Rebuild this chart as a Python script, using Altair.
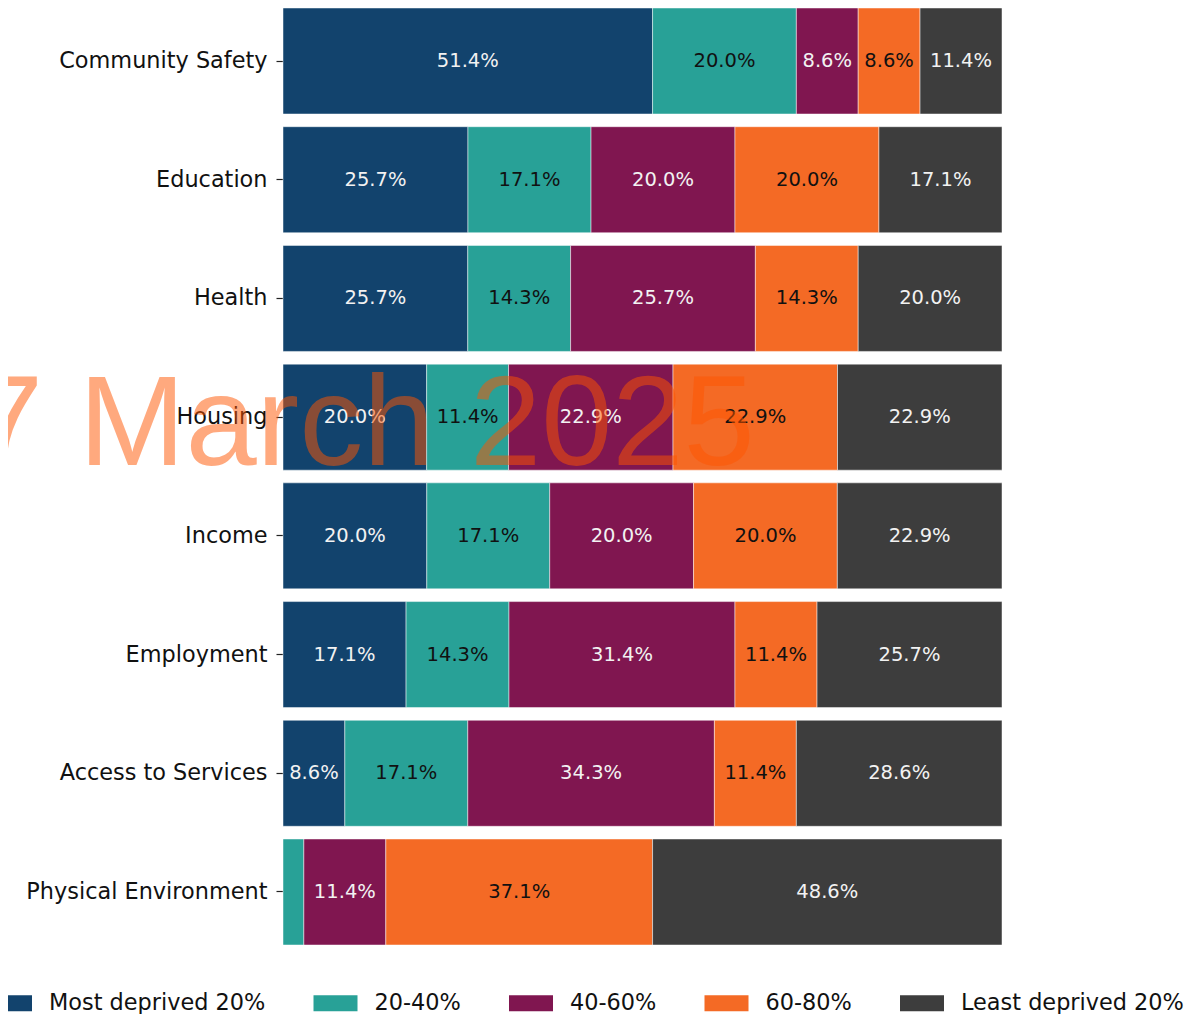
import altair as alt
import pandas as pd

categories = ["Community Safety", "Education", "Health", "Housing", "Income",
              "Employment", "Access to Services", "Physical Environment"]
bands = ["Most deprived 20%", "20-40%", "40-60%", "60-80%", "Least deprived 20%"]
colors = ["#12436D", "#28A197", "#801650", "#F46A25", "#3D3D3D"]
text_colors = ["#f2f2f2", "#111111", "#f2f2f2", "#111111", "#f2f2f2"]

most_deprived = [51.4, 25.7, 25.7, 20.0, 20.0, 17.1, 8.6, 0.0]
q20_40 = [20.0, 17.1, 14.3, 11.4, 17.1, 14.3, 17.1, 2.9]
q40_60 = [8.6, 20.0, 25.7, 22.9, 20.0, 31.4, 34.3, 11.4]
q60_80 = [8.6, 20.0, 14.3, 22.9, 20.0, 11.4, 11.4, 37.1]
least_deprived = [11.4, 17.1, 20.0, 22.9, 22.9, 25.7, 28.6, 48.6]

watermark = "7 March 2025"

series = [most_deprived, q20_40, q40_60, q60_80, least_deprived]
rows = []
for bi, (band, vals) in enumerate(zip(bands, series)):
    for ci, cat in enumerate(categories):
        rows.append({"category": cat, "band": band, "value": vals[ci], "order": bi,
                     "label": f"{vals[ci]:.1f}%"})
df = pd.DataFrame(rows)

base = alt.Chart(df).transform_stack(
    stack="value", groupby=["category"], as_=["x0", "x1"],
    sort=[alt.SortField("order", order="ascending")], offset="normalize"
).transform_calculate(mid="(datum.x0 + datum.x1) / 2")

y_enc = alt.Y("category:N", sort=categories, title=None,
              scale=alt.Scale(paddingInner=0.107, paddingOuter=0),
              axis=alt.Axis(domain=False, ticks=True, tickSize=7, tickWidth=1.2,
                            tickColor="#222222", labelFont="DejaVu Sans",
                            labelFontSize=22.4, labelColor="#111111",
                            labelPadding=9, labelLimit=0))
x_scale = alt.Scale(domain=[0, 1], nice=False, zero=True)

bars = base.transform_filter("datum.value > 0").mark_bar(
    stroke="white", strokeWidth=0.6, strokeOpacity=0.8
).encode(
    y=y_enc,
    x=alt.X("x0:Q", scale=x_scale, axis=None),
    x2="x1:Q",
    color=alt.Color("band:N", scale=alt.Scale(domain=bands, range=colors),
                    legend=alt.Legend(
                        title=None, orient="none", direction="horizontal",
                        legendX=-295, legendY=973, padding=0,
                        symbolType="M-1,-0.364L1,-0.364L1,0.364L-1,0.364Z",
                        symbolSize=1936, symbolStrokeWidth=0, symbolOpacity=1,
                        labelFont="DejaVu Sans", labelFontSize=22.4,
                        labelColor="#111111", labelOffset=17, columnPadding=47.5,
                        labelLimit=0)),
)

labels = base.transform_filter("datum.value >= 5").mark_text(
    font="DejaVu Sans", fontSize=19.5, baseline="middle", align="center"
).encode(
    y=alt.Y("category:N", sort=categories),
    x=alt.X("mid:Q", scale=x_scale),
    text="label:N",
    color=alt.Color("band:N", scale=alt.Scale(domain=bands, range=text_colors), legend=None),
)

wm = alt.Chart(pd.DataFrame({"t": [watermark]})).mark_text(
    font="Liberation Sans", fontSize=128, align="left", baseline="alphabetic",
    color="#ff5500", opacity=0.5
).encode(x=alt.value(-311), y=alt.value(457), text="t:N")

chart = alt.layer(bars, labels, wm).resolve_scale(color="independent").properties(
    width=719, height=937,
    autosize=alt.AutoSizeParams(type="none"),
    padding={"left": 275, "top": 0, "right": 191, "bottom": 69},
).configure_view(strokeWidth=0)

chart.save("out.html", embed_options={"renderer": "svg", "actions": False})
